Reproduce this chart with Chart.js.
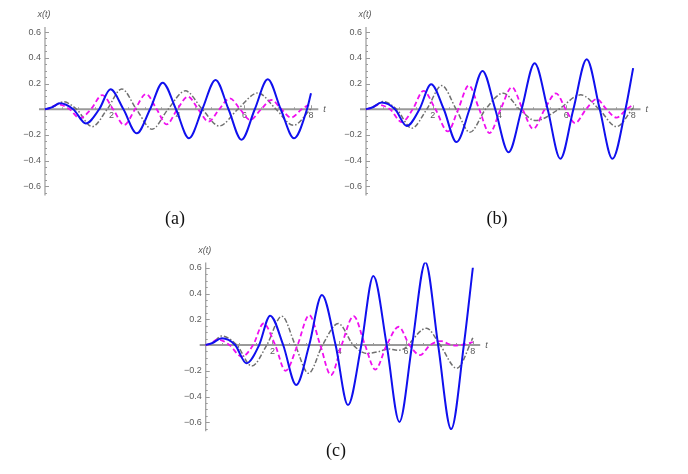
<!DOCTYPE html>
<html>
<head>
<meta charset="utf-8">
<script src="https://cdn.jsdelivr.net/npm/chart.js@4.4.1/dist/chart.umd.min.js"></script>
<style>
  html, body { margin: 0; padding: 0; background: #fff; }
  #wrap { position: relative; width: 688px; height: 474px; overflow: hidden; }
  canvas { position: absolute; left: 0; top: 0; }
  .cap { position: absolute; font-family: "Liberation Serif", "Times New Roman", serif; font-size: 18px; line-height: 18px; color: #111; transform: translateX(-50%); }
</style>
</head>
<body>
<div id="wrap">
  <canvas id="panelA" width="688" height="474"></canvas>
  <canvas id="panelB" width="688" height="474"></canvas>
  <canvas id="panelC" width="688" height="474"></canvas>
  <div class="cap" style="left:175px; top:209px">(a)</div>
  <div class="cap" style="left:497px; top:209px">(b)</div>
  <div class="cap" style="left:336px; top:441px">(c)</div>
</div>
<script>
// valores: pares [t, x(t)] em picos, vales e cruzamentos do zero

// painel (a)
const blueA = [[0,0],[0.2,0.015],[0.45,0.046],[0.85,0],[1.23,-0.11],[1.63,0],[1.97,0.155],[2.36,0],[2.76,-0.187],[3.16,0],[3.54,0.207],[3.94,0],[4.33,-0.225],[4.73,0],[5.13,0.228],[5.52,0],[5.91,-0.237],[6.31,0],[6.7,0.233],[7.09,0],[7.49,-0.225],[7.88,0],[8,0.125]];
const magentaA = [[0,0],[0.15,0.01],[0.4,0.038],[0.74,0],[1.05,-0.07],[1.38,0],[1.72,0.11],[2.05,0],[2.38,-0.122],[2.71,0],[3.04,0.118],[3.36,0],[3.66,-0.117],[3.98,0],[4.3,0.098],[4.61,0],[4.92,-0.096],[5.24,0],[5.56,0.085],[5.87,0],[6.17,-0.083],[6.5,0],[6.81,0.072],[7.11,0],[7.4,-0.065],[7.72,0],[8,0.045]];
const grayA = [[0,0],[0.2,0.012],[0.55,0.058],[0.95,0],[1.42,-0.135],[1.87,0],[2.31,0.158],[2.75,0],[3.22,-0.155],[3.7,0],[4.22,0.143],[4.73,0],[5.24,-0.13],[5.8,0],[6.4,0.127],[6.95,0],[7.47,-0.125],[8,0.005]];

// painel (b)
const blueB = [[0,0],[0.2,0.016],[0.47,0.052],[0.87,0],[1.22,-0.13],[1.6,0],[1.95,0.194],[2.33,0],[2.71,-0.255],[3.1,0],[3.49,0.298],[3.87,0],[4.27,-0.334],[4.66,0],[5.05,0.358],[5.44,0],[5.82,-0.385],[6.21,0],[6.61,0.389],[7.0,0],[7.38,-0.385],[7.77,0],[8,0.32]];
const magentaB = [[0,0],[0.15,0.01],[0.37,0.034],[0.72,0],[1.07,-0.1],[1.4,0],[1.72,0.143],[2.08,0],[2.45,-0.172],[2.76,0],[3.08,0.185],[3.39,0],[3.7,-0.185],[4.03,0],[4.37,0.171],[4.69,0],[5.01,-0.152],[5.35,0],[5.69,0.124],[5.98,0],[6.26,-0.107],[6.59,0],[6.91,0.08],[7.2,0],[7.5,-0.065],[7.8,0],[8,0.035]];
const grayB = [[0,0],[0.2,0.013],[0.5,0.06],[0.92,0],[1.37,-0.147],[1.82,0],[2.27,0.184],[2.7,0],[3.11,-0.179],[3.58,0],[4.11,0.125],[4.6,0],[5.08,-0.088],[5.77,0],[6.43,0.112],[6.98,0],[7.5,-0.135],[8,0.01]];

// painel (c)
const blueC = [[0,0],[0.2,0.016],[0.48,0.052],[0.88,0],[1.22,-0.142],[1.6,0],[1.93,0.228],[2.32,0],[2.71,-0.31],[3.1,0],[3.48,0.388],[3.89,0],[4.26,-0.466],[4.66,0],[5.02,0.536],[5.42,0],[5.8,-0.597],[6.18,0],[6.58,0.643],[6.96,0],[7.35,-0.653],[7.73,0],[8,0.6]];
const magentaC = [[0,0],[0.15,0.012],[0.35,0.044],[0.71,0],[1.08,-0.09],[1.42,0],[1.73,0.167],[2.08,0],[2.39,-0.2],[2.75,0],[3.1,0.232],[3.43,0],[3.75,-0.234],[4.07,0],[4.43,0.225],[4.77,0],[5.08,-0.19],[5.42,0],[5.78,0.142],[6.1,0],[6.42,-0.078],[6.72,0],[7.05,0.03],[7.3,0.005],[7.5,-0.004],[7.75,0.005],[8,0.022]];
const grayC = [[0,0],[0.2,0.015],[0.48,0.07],[0.93,0],[1.38,-0.163],[1.83,0],[2.28,0.224],[2.68,0],[3.08,-0.22],[3.5,0],[3.97,0.167],[4.42,0],[4.82,-0.065],[5.2,-0.05],[5.45,-0.03],[5.75,-0.04],[5.97,-0.025],[6.06,0],[6.61,0.13],[7.02,0],[7.52,-0.181],[8,0.055]];

// marcas dos eixos
const yTicks = [-0.6, -0.4, -0.2, 0.2, 0.4, 0.6];
const xTicks = [2, 4, 6, 8];

// eixos cruzando na origem, ao estilo do Mathematica
const eixosPlugin = {
    id: 'eixos',
    beforeDatasetsDraw(chart) {
        const { ctx, chartArea: a, scales: { x, y } } = chart;
        const x0 = x.getPixelForValue(0);
        const y0 = y.getPixelForValue(0);
        ctx.save();
        ctx.strokeStyle = '#9a9a9a';
        ctx.lineWidth = 1.8;
        ctx.beginPath();
        ctx.moveTo(a.left, y0); ctx.lineTo(a.right, y0);
        ctx.stroke();
        ctx.lineWidth = 1.2;
        ctx.beginPath();
        ctx.moveTo(x0, a.top); ctx.lineTo(x0, a.bottom);
        ctx.stroke();

        // marcas menores e maiores
        ctx.lineWidth = 1;
        ctx.beginPath();
        for (let k = -13; k <= 12; k++) {
            const v = k * 0.05;
            if (k === 0 || v < y.min || v > y.max) continue;
            const py = Math.round(y.getPixelForValue(v)) + 0.5;
            const len = (k % 4 === 0) ? 4 : 2;
            ctx.moveTo(x0, py); ctx.lineTo(x0 + len, py);
        }
        for (let k = 1; k <= 16; k++) {
            const v = k * 0.5;
            const px = Math.round(x.getPixelForValue(v)) + 0.5;
            const len = (k % 4 === 0) ? 4 : 2;
            ctx.moveTo(px, y0); ctx.lineTo(px, y0 - len);
        }
        ctx.stroke();

        // rótulos
        ctx.fillStyle = '#5a5a5a';
        ctx.font = '9px "Liberation Sans", Arial, sans-serif';
        ctx.textAlign = 'right';
        ctx.textBaseline = 'middle';
        yTicks.forEach(v => {
            const txt = (v < 0 ? '\u2212' : '') + Math.abs(v).toFixed(1);
            ctx.fillText(txt, x0 - 4, y.getPixelForValue(v));
        });
        ctx.textAlign = 'center';
        ctx.textBaseline = 'top';
        xTicks.forEach(v => ctx.fillText(String(v), x.getPixelForValue(v), y0 + 2));

        ctx.font = 'italic 9px "Liberation Sans", Arial, sans-serif';
        ctx.textBaseline = 'middle';
        ctx.fillText('x(t)', x0 - 1, a.top - 12);
        ctx.textAlign = 'left';
        ctx.fillText('t', a.right + 5, y0);
        ctx.restore();
    }
};

function criaPainel(id, area, azul, magenta, cinza) {
    const serie = (pts, cor, largura, traco) => ({
        data: pts.map(p => ({ x: p[0], y: p[1] })),
        borderColor: cor,
        borderWidth: largura,
        borderDash: traco,
        cubicInterpolationMode: 'monotone',
        pointRadius: 0,
        fill: false
    });
    return new Chart(document.getElementById(id), {
        type: 'line',
        data: {
            datasets: [
                serie(azul, '#1010ee', 2, []),
                serie(magenta, '#f010f0', 1.8, [5, 3]),
                serie(cinza, '#707070', 1.5, [5, 2, 1.5, 2])
            ]
        },
        options: {
            responsive: false,
            animation: false,
            layout: {
                padding: { left: area.left, right: 688 - area.right, top: area.top, bottom: 474 - area.bottom }
            },
            plugins: { legend: { display: false }, tooltip: { enabled: false } },
            scales: {
                x: { type: 'linear', min: -0.18, max: 8.22, display: false },
                y: { type: 'linear', min: -0.67, max: 0.64, display: false }
            }
        },
        plugins: [eixosPlugin]
    });
}

criaPainel('panelA', { left: 39, right: 318.3, top: 26.9, bottom: 195.5 }, blueA, magentaA, grayA);
criaPainel('panelB', { left: 360, right: 640.5, top: 26.9, bottom: 195.5 }, blueB, magentaB, grayB);
criaPainel('panelC', { left: 199.7, right: 480.2, top: 262.6, bottom: 431.3 }, blueC, magentaC, grayC);
</script>
</body>
</html>
